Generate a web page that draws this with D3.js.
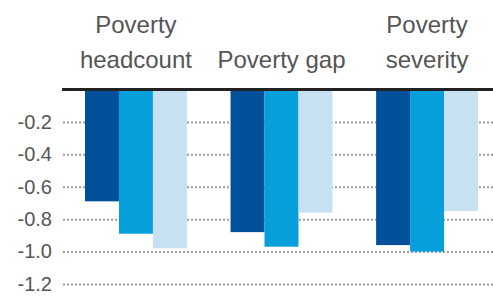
<!DOCTYPE html>
<html>
<head>
<meta charset="utf-8">
<script src="https://cdn.jsdelivr.net/npm/d3@7"></script>
<style>
  body { margin: 0; background: #fff; }
  text { font-family: "Liberation Sans", Arial, sans-serif; }
</style>
</head>
<body>
<div id="chart"></div>
<script>
var width = 493,
    height = 296;

// data
var categories = ["Poverty headcount", "Poverty gap", "Poverty severity"];
var headerLines = [["Poverty", "headcount"], ["Poverty gap"], ["Poverty", "severity"]];
var seriesNames = ["s1", "s2", "s3"];
var series1 = [-0.69, -0.88, -0.96];
var series2 = [-0.89, -0.97, -1.0];
var series3 = [-0.98, -0.76, -0.75];
var tickValues = [-0.2, -0.4, -0.6, -0.8, -1.0, -1.2];
var colors = ["#03509a", "#079fdb", "#c7e1f3"];

var rows = categories.map(function(c, i) {
  return {cat: c, vals: [series1[i], series2[i], series3[i]]};
});

var svg = d3.select("#chart")
    .append("svg")
    .attr("width", width)
    .attr("height", height);

var x = d3.scaleBand().domain(categories).range([85, 478]).paddingInner(0.3).paddingOuter(0);
var xs = d3.scaleBand().domain(seriesNames).range([0, x.bandwidth()]);
var y = d3.scaleLinear().domain([0, -1.2]).range([89.5, 284]);

// dotted gridlines
var grid = svg.append("g")
    .attr("transform", "translate(493,0)")
    .call(d3.axisLeft(y).tickValues(tickValues).tickSize(430).tickFormat(""));
grid.select(".domain").remove();
grid.selectAll("line")
    .attr("stroke", "#9a9a9a")
    .attr("stroke-width", 2)
    .attr("stroke-dasharray", "2,2");

// tick labels
var yAxis = svg.append("g")
    .attr("transform", "translate(55,0)")
    .call(d3.axisLeft(y).tickValues(tickValues).tickSize(0).tickFormat(function(d) { return d.toFixed(1); }));
yAxis.select(".domain").remove();
yAxis.selectAll("text")
    .attr("fill", "#555")
    .style("font-size", "20px")
    .style("font-family", "'Liberation Sans', Arial, sans-serif");

// bars
var groups = svg.selectAll(".grp")
    .data(rows)
    .enter().append("g")
    .attr("class", "grp")
    .attr("transform", function(d) { return "translate(" + x(d.cat) + ",0)"; });

groups.selectAll("rect")
    .data(function(d) { return d.vals.map(function(v, i) { return {k: seriesNames[i], v: v, i: i}; }); })
    .enter().append("rect")
    .attr("x", function(d) { return xs(d.k); })
    .attr("y", y(0))
    .attr("width", xs.bandwidth())
    .attr("height", function(d) { return y(d.v) - y(0); })
    .attr("fill", function(d) { return colors[d.i]; });

// zero line
svg.append("line")
    .attr("x1", 62).attr("x2", width)
    .attr("y1", y(0)).attr("y2", y(0))
    .attr("stroke", "#222")
    .attr("stroke-width", 3);

// category headers
var heads = svg.selectAll(".head")
    .data(categories)
    .enter().append("text")
    .attr("class", "head")
    .attr("text-anchor", "middle")
    .attr("fill", "#555")
    .style("font-size", "24px");

heads.each(function(d, i) {
  var lines = headerLines[i];
  var t = d3.select(this);
  lines.forEach(function(l, j) {
    t.append("tspan")
      .attr("x", x(d) + x.bandwidth() / 2)
      .attr("y", 68 - (lines.length - 1 - j) * 35)
      .text(l);
  });
});
</script>
</body>
</html>
